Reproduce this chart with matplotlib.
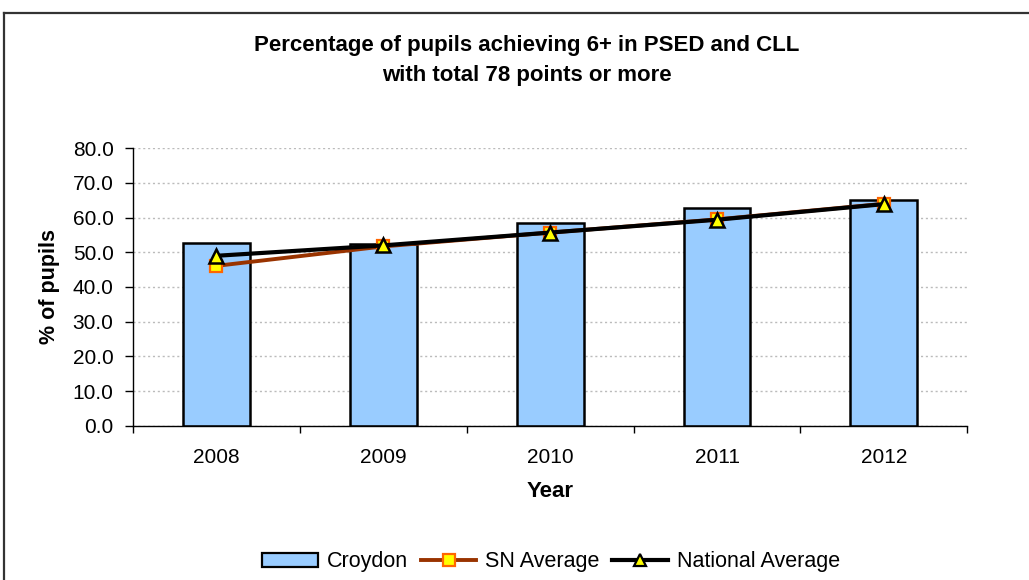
import matplotlib
matplotlib.use("Agg")
import matplotlib.pyplot as plt
from matplotlib.lines import Line2D
import numpy as np

years = ["2008", "2009", "2010", "2011", "2012"]
croydon = [52.6, 52.4, 58.4, 62.9, 65.2]
sn_average = [46.1, 51.7, 55.7, 59.5, 64.0]
national_average = [49.0, 52.0, 55.7, 59.4, 63.9]
yticks = [0, 10, 20, 30, 40, 50, 60, 70, 80]

plt.rcParams['font.family'] = ['Liberation Sans', 'DejaVu Sans']

W, H = 1029, 580
fig = plt.figure(figsize=(W/100, H/100), dpi=100)
ax = fig.add_axes([133/W, 1-425.7/H, (967.3-133)/W, (425.7-148.3)/H])

x = np.arange(len(years))
ax.bar(x, croydon, width=0.4, color='#99CCFF', edgecolor='black', linewidth=1.8, zorder=2)
ax.plot(x, sn_average, color='#993300', lw=2.8, marker='s', ms=8,
        mfc='#FFFF00', mec='#FF6600', mew=1.6, zorder=3)
ax.plot(x, national_average, color='black', lw=3.0, marker='^', ms=10,
        mfc='#FFFF00', mec='black', mew=1.8, zorder=4)

ax.set_xlim(-0.5, len(years)-0.5)
ax.set_ylim(0, 80)
ax.set_yticks(yticks)
ax.set_yticklabels([f"{v:.1f}" for v in yticks], fontsize=15)
ax.set_xticks(x)
ax.set_xticklabels(years, fontsize=15)
ax.set_xticks(np.arange(-0.5, len(years)), minor=True)
ax.tick_params(axis='x', which='major', length=0, pad=16)
ax.tick_params(axis='x', which='minor', length=5, width=1, direction='out')
ax.tick_params(axis='y', length=6, width=1, direction='out', pad=8)

ax.yaxis.grid(True, color='#BBBBBB', linestyle=(0, (1.5, 2)), lw=1)
ax.set_axisbelow(True)
for s in ['top', 'right']:
    ax.spines[s].set_visible(False)
for s in ['left', 'bottom']:
    ax.spines[s].set_color('black')
    ax.spines[s].set_linewidth(1)

ax.set_ylabel("% of pupils", fontsize=15.5, fontweight='bold', labelpad=9)
ax.set_xlabel("Year", fontsize=16, fontweight='bold', labelpad=10)

fig.text(527/W, 1-45/H, "Percentage of pupils achieving 6+ in PSED and CLL",
         ha='center', va='center', fontsize=16, fontweight='bold')
fig.text(527/W, 1-76/H, "with total 78 points or more",
         ha='center', va='center', fontsize=16, fontweight='bold')

handles = [
    plt.Rectangle((0, 0), 1, 1, facecolor='#99CCFF', edgecolor='black', linewidth=1.6),
    Line2D([], [], color='#993300', lw=2.8, marker='s', ms=8, mfc='#FFFF00', mec='#FF6600', mew=1.6),
    Line2D([], [], color='black', lw=3.0, marker='^', ms=9, mfc='#FFFF00', mec='black', mew=1.6),
]
fig.legend(handles, ["Croydon", "SN Average", "National Average"], loc='center',
           bbox_to_anchor=(551/W, 1-562/H), ncol=3, frameon=False, fontsize=15.5,
           handlelength=2.6, handleheight=0.6, columnspacing=0.6, handletextpad=0.4)

# outer frame
fig.add_artist(Line2D([4/W, 1.01], [1-13/H, 1-13/H], color='#333333', lw=1.6))
fig.add_artist(Line2D([4/W, 4/W], [1-13/H, -0.01], color='#333333', lw=1.6))

fig.savefig("out.png", dpi=100)
